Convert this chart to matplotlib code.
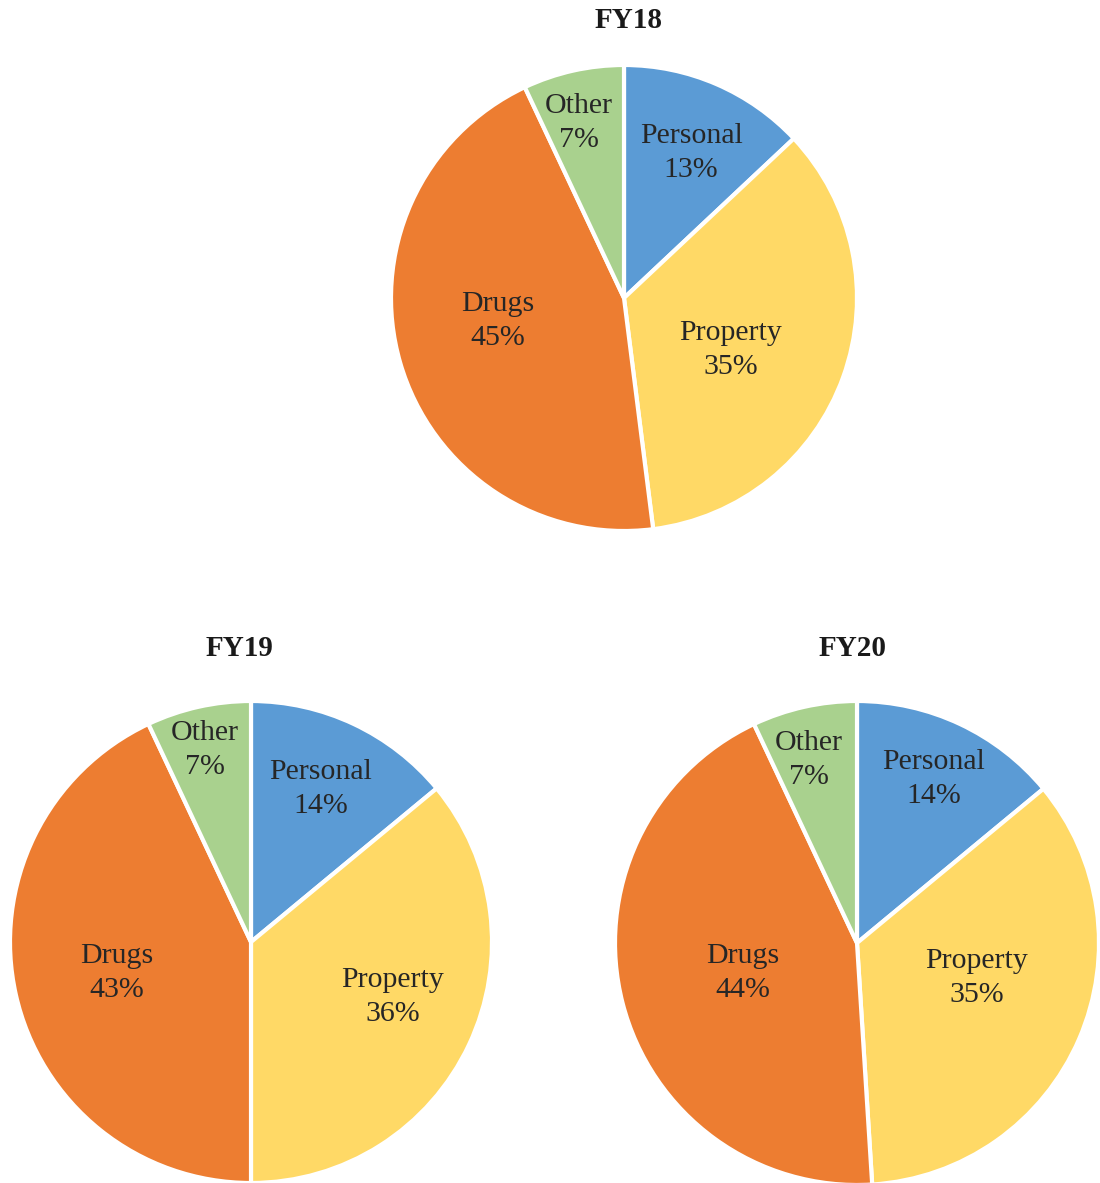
import numpy as np
import matplotlib
matplotlib.use("Agg")
import matplotlib.pyplot as plt

# categories and shares (%) per fiscal year
categories = ["Personal", "Property", "Drugs", "Other"]
years = ["FY18", "FY19", "FY20"]
fy18 = [13, 35, 45, 7]
fy19 = [14, 36, 43, 7]
fy20 = [14, 35, 44, 7]

colors = ["#5B9BD5", "#FFD966", "#ED7D31", "#A9D18E"]

plt.rcParams['font.family'] = ['Liberation Serif', 'DejaVu Serif']

W, H = 1100, 1183
fig = plt.figure(figsize=(W / 100, H / 100), dpi=100)

# pixel layout: pie center, radius, title position, label offsets (in radius units)
layout = {
    "FY18": dict(c=(624, 298), r=233, title=(629, 21),
                 lab=[(0.288, 0.635), (0.459, -0.210), (-0.541, -0.086), (-0.193, 0.764)]),
    "FY19": dict(c=(251, 942), r=241, title=(240, 649),
                 lab=[(0.290, 0.647), (0.589, -0.216), (-0.556, -0.116), (-0.191, 0.809)]),
    "FY20": dict(c=(857, 943), r=242, title=(853, 649),
                 lab=[(0.318, 0.690), (0.496, -0.132), (-0.471, -0.112), (-0.198, 0.769)]),
}

for name, vals in zip(years, [fy18, fy19, fy20]):
    lay = layout[name]
    cx, cy = lay["c"]
    r = lay["r"]
    ax = fig.add_axes([(cx - r) / W, 1 - (cy + r) / H, 2 * r / W, 2 * r / H])
    wedges, _ = ax.pie(vals, colors=colors, startangle=90, counterclock=False,
                       wedgeprops=dict(edgecolor="white", linewidth=3))
    for w in wedges:
        w.set_clip_on(False)
    ax.set_xlim(-1, 1)
    ax.set_ylim(-1, 1)
    ax.set_aspect("equal")
    ax.axis("off")

    for (x, y), cat, v in zip(lay["lab"], categories, vals):
        ax.text(x, y - 3.0 / r, f"{cat}\n{v}%", ha="center", va="center",
                fontsize=21.5, color="#262626", linespacing=1.4)

    tx, ty = lay["title"]
    fig.text(tx / W, 1 - ty / H, name, ha="center", va="center",
             fontsize=21, fontweight="bold", color="#1a1a1a")

fig.savefig("out.png", dpi=100, facecolor="white")
